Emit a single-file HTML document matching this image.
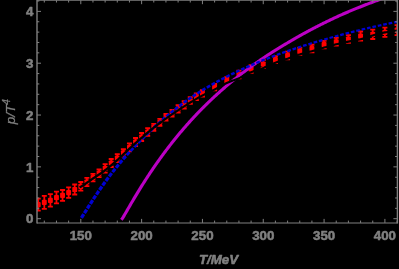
<!DOCTYPE html>
<html><head><meta charset="utf-8"><title>plot</title>
<style>html,body{margin:0;padding:0;background:#000;width:399px;height:269px;overflow:hidden}
svg text{font-family:"Liberation Sans",sans-serif;stroke:#808080;stroke-width:0.55px;stroke-linejoin:round}</style></head>
<body>
<svg width="399" height="269" viewBox="0 0 399 269" style="will-change:transform;display:block;position:absolute;left:0;top:0">
<rect width="399" height="269" fill="#000"/>
<defs><clipPath id="c"><rect x="37.0" y="0.2" width="360.4" height="222.70000000000002"/></clipPath><filter id="b" x="0" y="0" width="399" height="269" filterUnits="userSpaceOnUse"><feGaussianBlur stdDeviation="0.35"/></filter></defs>
<g clip-path="url(#c)"><g filter="url(#b)">
<path d="M38.23 198.60V210.60M35.73 198.60h5.0M35.73 210.60h5.0M44.31 195.90V208.90M41.81 195.90h5.0M41.81 208.90h5.0M50.39 194.10V206.70M47.89 194.10h5.0M47.89 206.70h5.0M56.47 191.70V203.30M53.97 191.70h5.0M53.97 203.30h5.0M62.55 190.00V200.80M60.05 190.00h5.0M60.05 200.80h5.0M68.64 187.30V197.90M66.14 187.30h5.0M66.14 197.90h5.0M74.72 184.50V194.50M72.22 184.50h5.0M72.22 194.50h5.0M80.80 182.00V190.60M78.30 182.00h5.0M78.30 190.60h5.0M86.88 177.90V186.10M84.38 177.90h5.0M84.38 186.10h5.0M92.96 173.80V181.40M90.46 173.80h5.0M90.46 181.40h5.0M99.05 169.50V177.10M96.55 169.50h5.0M96.55 177.10h5.0M105.13 164.20V172.60M102.63 164.20h5.0M102.63 172.60h5.0M111.21 159.00V167.00M108.71 159.00h5.0M108.71 167.00h5.0M117.29 154.10V162.10M114.79 154.10h5.0M114.79 162.10h5.0M123.37 149.10V156.70M120.87 149.10h5.0M120.87 156.70h5.0M129.46 143.30V151.30M126.96 143.30h5.0M126.96 151.30h5.0M135.54 138.00V146.00M133.04 138.00h5.0M133.04 146.00h5.0M141.62 133.00V141.00M139.12 133.00h5.0M139.12 141.00h5.0M147.70 128.20V135.80M145.20 128.20h5.0M145.20 135.80h5.0M153.78 123.80V130.80M151.28 123.80h5.0M151.28 130.80h5.0M159.87 118.80V125.80M157.37 118.80h5.0M157.37 125.80h5.0M165.95 114.00V120.60M163.45 114.00h5.0M163.45 120.60h5.0M172.03 109.90V116.50M169.53 109.90h5.0M169.53 116.50h5.0M178.11 105.10V112.50M175.61 105.10h5.0M175.61 112.50h5.0M184.19 101.10V108.50M181.69 101.10h5.0M181.69 108.50h5.0M190.28 97.20V103.80M187.78 97.20h5.0M187.78 103.80h5.0M196.36 93.50V100.10M193.86 93.50h5.0M193.86 100.10h5.0M202.44 90.10V96.50M199.94 90.10h5.0M199.94 96.50h5.0M214.60 84.00V90.40M212.10 84.00h5.0M212.10 90.40h5.0M226.77 77.10V83.50M224.27 77.10h5.0M224.27 83.50h5.0M238.93 70.70V78.30M236.43 70.70h5.0M236.43 78.30h5.0M251.10 65.20V72.80M248.60 65.20h5.0M248.60 72.80h5.0M263.26 60.00V68.00M260.76 60.00h5.0M260.76 68.00h5.0M275.42 56.10V63.10M272.92 56.10h5.0M272.92 63.10h5.0M287.59 51.70V59.30M285.09 51.70h5.0M285.09 59.30h5.0M299.75 47.90V54.90M297.25 47.90h5.0M297.25 54.90h5.0M311.92 44.75V52.45M309.42 44.75h5.0M309.42 52.45h5.0M324.08 40.80V48.40M321.58 40.80h5.0M321.58 48.40h5.0M336.24 37.90V45.70M333.74 37.90h5.0M333.74 45.70h5.0M348.41 35.20V42.80M345.91 35.20h5.0M345.91 42.80h5.0M360.57 31.50V40.70M358.07 31.50h5.0M358.07 40.70h5.0M372.74 29.60V39.00M370.24 29.60h5.0M370.24 39.00h5.0M384.90 27.70V36.90M382.40 27.70h5.0M382.40 36.90h5.0M397.06 25.20V35.20M394.56 25.20h5.0M394.56 35.20h5.0" stroke="#ff0000" stroke-width="1.8" fill="none"/>
<g fill="#ff0000"><rect x="35.78" y="202.00" width="4.9" height="5.2" rx="0.9"/><rect x="41.86" y="199.80" width="4.9" height="5.2" rx="0.9"/><rect x="47.94" y="197.80" width="4.9" height="5.2" rx="0.9"/><rect x="54.02" y="194.90" width="4.9" height="5.2" rx="0.9"/><rect x="60.10" y="192.80" width="4.9" height="5.2" rx="0.9"/><rect x="66.19" y="190.00" width="4.9" height="5.2" rx="0.9"/><rect x="72.27" y="186.90" width="4.9" height="5.2" rx="0.9"/><rect x="78.35" y="183.70" width="4.9" height="5.2" rx="0.9"/><rect x="84.43" y="179.40" width="4.9" height="5.2" rx="0.9"/><rect x="90.51" y="175.00" width="4.9" height="5.2" rx="0.9"/><rect x="96.60" y="170.70" width="4.9" height="5.2" rx="0.9"/><rect x="102.68" y="165.80" width="4.9" height="5.2" rx="0.9"/><rect x="108.76" y="160.40" width="4.9" height="5.2" rx="0.9"/><rect x="114.84" y="155.50" width="4.9" height="5.2" rx="0.9"/><rect x="120.92" y="150.30" width="4.9" height="5.2" rx="0.9"/><rect x="127.01" y="144.70" width="4.9" height="5.2" rx="0.9"/><rect x="133.09" y="139.40" width="4.9" height="5.2" rx="0.9"/><rect x="139.17" y="134.40" width="4.9" height="5.2" rx="0.9"/><rect x="145.25" y="129.40" width="4.9" height="5.2" rx="0.9"/><rect x="151.33" y="124.70" width="4.9" height="5.2" rx="0.9"/><rect x="157.42" y="119.70" width="4.9" height="5.2" rx="0.9"/><rect x="163.50" y="114.70" width="4.9" height="5.2" rx="0.9"/><rect x="169.58" y="110.60" width="4.9" height="5.2" rx="0.9"/><rect x="175.66" y="106.20" width="4.9" height="5.2" rx="0.9"/><rect x="181.74" y="102.20" width="4.9" height="5.2" rx="0.9"/><rect x="187.83" y="97.90" width="4.9" height="5.2" rx="0.9"/><rect x="193.91" y="94.20" width="4.9" height="5.2" rx="0.9"/><rect x="199.99" y="90.70" width="4.9" height="5.2" rx="0.9"/><rect x="212.15" y="84.60" width="4.9" height="5.2" rx="0.9"/><rect x="224.32" y="77.70" width="4.9" height="5.2" rx="0.9"/><rect x="236.48" y="71.90" width="4.9" height="5.2" rx="0.9"/><rect x="248.65" y="66.40" width="4.9" height="5.2" rx="0.9"/><rect x="260.81" y="61.40" width="4.9" height="5.2" rx="0.9"/><rect x="272.97" y="57.00" width="4.9" height="5.2" rx="0.9"/><rect x="285.14" y="52.90" width="4.9" height="5.2" rx="0.9"/><rect x="297.30" y="48.80" width="4.9" height="5.2" rx="0.9"/><rect x="309.47" y="46.00" width="4.9" height="5.2" rx="0.9"/><rect x="321.63" y="42.00" width="4.9" height="5.2" rx="0.9"/><rect x="333.79" y="39.20" width="4.9" height="5.2" rx="0.9"/><rect x="345.96" y="36.40" width="4.9" height="5.2" rx="0.9"/><rect x="358.12" y="33.50" width="4.9" height="5.2" rx="0.9"/><rect x="370.29" y="31.70" width="4.9" height="5.2" rx="0.9"/><rect x="382.45" y="29.70" width="4.9" height="5.2" rx="0.9"/><rect x="394.61" y="27.60" width="4.9" height="5.2" rx="0.9"/></g>
<polyline points="121.3,219.8 122.28,218.63 122.89,217.67 123.50,216.65 124.10,215.62 124.71,214.58 125.32,213.53 125.93,212.48 126.54,211.43 127.14,210.38 127.75,209.32 128.36,208.27 128.97,207.22 129.58,206.17 130.19,205.13 130.79,204.08 131.40,203.04 132.01,202.00 132.62,200.97 133.23,199.94 133.84,198.91 134.44,197.89 135.05,196.87 135.66,195.85 136.27,194.84 136.88,193.83 137.48,192.83 138.09,191.83 138.70,190.84 139.31,189.84 139.92,188.86 140.53,187.87 141.13,186.90 141.74,185.92 142.35,184.95 142.96,183.99 143.57,183.02 144.17,182.07 144.78,181.11 145.39,180.17 146.00,179.22 146.61,178.28 147.22,177.35 147.82,176.41 148.43,175.49 149.04,174.57 149.65,173.65 150.26,172.73 150.86,171.82 151.47,170.92 152.08,170.02 152.69,169.12 153.30,168.23 153.91,167.34 154.51,166.45 155.12,165.57 155.73,164.70 156.34,163.83 156.95,162.96 157.55,162.09 158.16,161.23 158.77,160.38 159.38,159.53 159.99,158.68 160.60,157.84 161.20,157.00 161.81,156.16 162.42,155.33 163.03,154.50 163.64,153.68 164.25,152.86 164.85,152.04 165.46,151.23 166.07,150.42 166.68,149.62 167.29,148.82 167.89,148.02 168.50,147.23 169.11,146.44 169.72,145.65 170.33,144.87 170.94,144.09 171.54,143.31 172.15,142.54 172.76,141.78 173.37,141.01 173.98,140.25 174.58,139.49 175.19,138.74 175.80,137.99 176.41,137.24 177.02,136.50 177.63,135.76 178.23,135.03 178.84,134.29 179.45,133.56 180.06,132.84 180.67,132.11 181.27,131.40 181.88,130.68 182.49,129.97 183.10,129.26 183.71,128.55 184.32,127.85 184.92,127.15 185.53,126.45 186.14,125.76 186.75,125.07 187.36,124.38 187.96,123.70 188.57,123.02 189.18,122.34 189.79,121.66 190.40,120.99 191.01,120.32 191.61,119.66 192.22,118.99 192.83,118.33 193.44,117.68 194.05,117.02 194.66,116.37 195.26,115.72 195.87,115.08 196.48,114.44 197.09,113.80 197.70,113.16 198.30,112.53 198.91,111.89 199.52,111.27 200.13,110.64 200.74,110.02 201.35,109.40 201.95,108.78 202.56,108.17 203.17,107.55 203.78,106.94 204.39,106.34 204.99,105.73 205.60,105.13 206.21,104.53 206.82,103.94 207.43,103.34 208.04,102.75 208.64,102.16 209.25,101.58 209.86,100.99 210.47,100.41 211.08,99.84 211.68,99.26 212.29,98.69 212.90,98.11 213.51,97.55 214.12,96.98 214.73,96.42 215.33,95.85 215.94,95.29 216.55,94.74 217.16,94.18 217.77,93.63 218.37,93.08 218.98,92.53 219.59,91.99 220.20,91.45 220.81,90.91 221.42,90.37 222.02,89.83 222.63,89.30 223.24,88.77 223.85,88.24 224.46,87.71 225.07,87.18 225.67,86.66 226.28,86.14 226.89,85.62 227.50,85.10 228.11,84.59 228.71,84.08 229.32,83.57 229.93,83.06 230.54,82.55 231.15,82.05 231.76,81.55 232.36,81.05 232.97,80.55 233.58,80.05 234.19,79.56 234.80,79.07 235.40,78.58 236.01,78.09 236.62,77.60 237.23,77.12 237.84,76.64 238.45,76.16 239.05,75.68 239.66,75.20 240.27,74.73 240.88,74.26 241.49,73.78 242.09,73.32 242.70,72.85 243.31,72.38 243.92,71.92 244.53,71.46 245.14,71.00 245.74,70.54 246.35,70.08 246.96,69.63 247.57,69.18 248.18,68.73 248.78,68.28 249.39,67.83 250.00,67.38 250.61,66.94 251.22,66.50 251.83,66.06 252.43,65.62 253.04,65.18 253.65,64.75 254.26,64.31 254.87,63.88 255.48,63.45 256.08,63.02 256.69,62.59 257.30,62.17 257.91,61.74 258.52,61.32 259.12,60.90 259.73,60.48 260.34,60.06 260.95,59.65 261.56,59.23 262.17,58.82 262.77,58.41 263.38,58.00 263.99,57.59 264.60,57.18 265.21,56.78 265.81,56.37 266.42,55.97 267.03,55.57 267.64,55.17 268.25,54.77 268.86,54.38 269.46,53.98 270.07,53.59 270.68,53.20 271.29,52.81 271.90,52.42 272.50,52.03 273.11,51.64 273.72,51.26 274.33,50.88 274.94,50.49 275.55,50.11 276.15,49.73 276.76,49.36 277.37,48.98 277.98,48.60 278.59,48.23 279.19,47.86 279.80,47.49 280.41,47.12 281.02,46.75 281.63,46.38 282.24,46.01 282.84,45.65 283.45,45.29 284.06,44.92 284.67,44.56 285.28,44.20 285.89,43.85 286.49,43.49 287.10,43.13 287.71,42.78 288.32,42.41 288.93,42.05 289.53,41.69 290.14,41.33 290.75,40.97 291.36,40.61 291.97,40.25 292.58,39.89 293.18,39.54 293.79,39.19 294.40,38.83 295.01,38.48 295.62,38.13 296.22,37.78 296.83,37.44 297.44,37.09 298.05,36.74 298.66,36.40 299.27,36.06 299.87,35.71 300.48,35.37 301.09,35.03 301.70,34.69 302.31,34.36 302.91,34.02 303.52,33.68 304.13,33.35 304.74,33.02 305.35,32.68 305.96,32.35 306.56,32.02 307.17,31.69 307.78,31.37 308.39,31.04 309.00,30.71 309.60,30.39 310.21,30.07 310.82,29.74 311.43,29.42 312.04,29.10 312.65,28.78 313.25,28.46 313.86,28.15 314.47,27.83 315.08,27.51 315.69,27.20 316.30,26.89 316.90,26.57 317.51,26.26 318.12,25.95 318.73,25.64 319.34,25.33 319.94,25.03 320.55,24.72 321.16,24.42 321.77,24.11 322.38,23.81 322.99,23.50 323.59,23.20 324.20,22.90 324.81,22.60 325.42,22.30 326.03,22.00 326.63,21.71 327.24,21.41 327.85,21.12 328.46,20.82 329.07,20.53 329.68,20.24 330.28,19.94 330.89,19.65 331.50,19.36 332.11,19.07 332.72,18.79 333.32,18.50 333.93,18.21 334.54,17.93 335.15,17.64 335.76,17.36 336.37,17.08 336.97,16.79 337.58,16.51 338.19,16.23 338.80,15.95 339.41,15.67 340.01,15.40 340.62,15.12 341.23,14.84 341.84,14.57 342.45,14.30 343.06,14.03 343.66,13.77 344.27,13.51 344.88,13.24 345.49,12.98 346.10,12.72 346.71,12.46 347.31,12.21 347.92,11.95 348.53,11.69 349.14,11.43 349.75,11.18 350.35,10.93 350.96,10.67 351.57,10.42 352.18,10.17 352.79,9.91 353.40,9.66 354.00,9.41 354.61,9.16 355.22,8.92 355.83,8.67 356.44,8.42 357.04,8.18 357.65,7.93 358.26,7.69 358.87,7.44 359.48,7.20 360.09,6.96 360.69,6.71 361.30,6.47 361.91,6.23 362.52,5.99 363.13,5.75 363.73,5.52 364.34,5.28 364.95,5.04 365.56,4.80 366.17,4.57 366.78,4.33 367.38,4.10 367.99,3.87 368.60,3.63 369.21,3.40 369.82,3.17 370.42,2.94 371.03,2.71 371.64,2.48 372.25,2.25 372.86,2.02 373.47,1.80 374.07,1.57 374.68,1.34 375.29,1.12 375.90,0.89 376.51,0.67 377.12,0.45 377.72,0.22 378.33,0.00 378.94,-0.22 379.55,-0.44 380.16,-0.66 380.76,-0.88 381.37,-1.10 381.98,-1.32 382.59,-1.54 383.20,-1.75 383.81,-1.97 384.41,-2.19 385.02,-2.40 385.63,-2.62 386.24,-2.83 386.85,-3.05 387.45,-3.26 388.06,-3.47 388.67,-3.68 389.28,-3.89 389.89,-4.10 390.50,-4.31 391.10,-4.52 391.71,-4.73 392.32,-4.94 392.93,-5.15 393.54,-5.36 394.14,-5.56 394.75,-5.77 395.36,-5.97 395.97,-6.18 396.58,-6.38 397.19,-6.59 397.79,-6.79 398.40,-6.99 399.01,-7.19 399.62,-7.39 400.23,-7.60 400.83,-7.80 401.44,-8.00" stroke="#bb00c4" stroke-width="3.1" fill="none"/>
<g stroke="#0000d2" fill="none"><path d="M81.42 217.82L82.60 216.02L83.76 214.20" stroke-width="3.28"/><path d="M84.41 213.18L85.56 211.35L86.71 209.52" stroke-width="3.30"/><path d="M87.36 208.50L88.51 206.68L89.67 204.86" stroke-width="3.29"/><path d="M90.32 203.83L91.49 202.02L92.66 200.21" stroke-width="3.28"/><path d="M93.33 199.19L94.51 197.39L95.70 195.60" stroke-width="3.26"/><path d="M96.38 194.57L97.58 192.79L98.78 191.02" stroke-width="3.25"/><path d="M99.49 189.99L100.70 188.23L101.93 186.48" stroke-width="3.23"/><path d="M102.65 185.45L103.88 183.71L105.13 181.98" stroke-width="3.21"/><path d="M105.88 180.95L107.14 179.25L108.41 177.54" stroke-width="3.18"/><path d="M109.18 176.51L110.46 174.83L111.75 173.15" stroke-width="3.16"/><path d="M112.55 172.12L113.85 170.46L115.17 168.81" stroke-width="3.14"/><path d="M115.99 167.78L117.31 166.15L118.64 164.53" stroke-width="3.11"/><path d="M119.49 163.50L120.84 161.89L122.19 160.30" stroke-width="3.09"/><path d="M123.07 159.27L124.43 157.69L125.80 156.13" stroke-width="3.06"/><path d="M126.71 155.10L128.09 153.55L129.49 152.01" stroke-width="3.03"/><path d="M130.41 150.99L131.81 149.47L133.22 147.95" stroke-width="3.01"/><path d="M134.18 146.93L135.60 145.44L137.03 143.95" stroke-width="2.99"/><path d="M138.01 142.94L139.45 141.48L140.90 140.02" stroke-width="2.96"/><path d="M141.91 139.01L143.37 137.58L144.84 136.15" stroke-width="2.93"/><path d="M145.88 135.15L147.36 133.75L148.83 132.34" stroke-width="2.90"/><path d="M149.88 131.33L151.35 129.93L152.84 128.53" stroke-width="2.90"/><path d="M153.91 127.54L155.40 126.17L156.90 124.80" stroke-width="2.88"/><path d="M158.00 123.81L159.51 122.47L161.03 121.14" stroke-width="2.85"/><path d="M162.16 120.16L163.68 118.84L165.21 117.52" stroke-width="2.84"/><path d="M166.35 116.54L167.88 115.25L169.42 113.96" stroke-width="2.82"/><path d="M170.59 112.98L172.13 111.72L173.69 110.45" stroke-width="2.79"/><path d="M174.88 109.49L176.44 108.25L178.01 107.02" stroke-width="2.77"/><path d="M179.24 106.06L180.81 104.86L182.40 103.69" stroke-width="2.72"/><path d="M183.67 102.75L185.27 101.60L186.87 100.45" stroke-width="2.69"/><path d="M188.18 99.53L189.78 98.41L191.40 97.29" stroke-width="2.67"/><path d="M192.73 96.39L194.35 95.29L195.97 94.20" stroke-width="2.65"/><path d="M197.35 93.32L198.99 92.29L200.64 91.28" stroke-width="2.60"/><path d="M202.06 90.41L203.71 89.41L205.37 88.42" stroke-width="2.57"/><path d="M206.81 87.58L208.47 86.61L210.14 85.64" stroke-width="2.55"/><path d="M211.60 84.81L213.27 83.87L214.95 82.93" stroke-width="2.53"/><path d="M216.43 82.12L218.12 81.20L219.80 80.30" stroke-width="2.51"/><path d="M221.31 79.49L223.00 78.61L224.69 77.73" stroke-width="2.49"/><path d="M226.22 76.94L227.91 76.08L229.61 75.22" stroke-width="2.48"/><path d="M231.16 74.45L232.86 73.62L234.57 72.79" stroke-width="2.46"/><path d="M236.13 72.04L237.84 71.22L239.55 70.42" stroke-width="2.44"/><path d="M241.14 69.68L242.86 68.89L244.57 68.11" stroke-width="2.43"/><path d="M246.18 67.39L247.90 66.63L249.62 65.87" stroke-width="2.41"/><path d="M251.24 65.16L252.96 64.42L254.69 63.68" stroke-width="2.40"/><path d="M256.33 63.00L258.06 62.27L259.79 61.56" stroke-width="2.38"/><path d="M261.44 60.89L263.18 60.19L264.91 59.49" stroke-width="2.37"/><path d="M266.58 58.83L268.32 58.15L270.06 57.48" stroke-width="2.36"/><path d="M271.74 56.84L273.48 56.18L275.22 55.52" stroke-width="2.35"/><path d="M276.92 54.89L278.66 54.25L280.41 53.62" stroke-width="2.34"/><path d="M282.11 53.00L283.86 52.38L285.61 51.76" stroke-width="2.33"/><path d="M287.33 51.16L289.08 50.56L290.83 49.96" stroke-width="2.32"/><path d="M292.56 49.37L294.32 48.79L296.07 48.20" stroke-width="2.31"/><path d="M297.81 47.63L299.57 47.06L301.33 46.50" stroke-width="2.30"/><path d="M303.08 45.94L304.83 45.38L306.60 44.83" stroke-width="2.29"/><path d="M308.35 44.29L310.12 43.75L311.88 43.22" stroke-width="2.29"/><path d="M313.64 42.67L315.40 42.14L317.17 41.60" stroke-width="2.29"/><path d="M318.93 41.07L320.70 40.55L322.46 40.03" stroke-width="2.28"/><path d="M324.24 39.51L326.00 39.00L327.77 38.49" stroke-width="2.27"/><path d="M329.55 37.99L331.32 37.49L333.09 37.00" stroke-width="2.27"/><path d="M334.88 36.51L336.65 36.02L338.42 35.54" stroke-width="2.26"/><path d="M340.22 35.06L341.99 34.59L343.76 34.12" stroke-width="2.25"/><path d="M345.56 33.65L347.34 33.19L349.11 32.74" stroke-width="2.25"/><path d="M350.92 32.28L352.69 31.83L354.47 31.39" stroke-width="2.24"/><path d="M356.28 30.94L358.06 30.50L359.84 30.07" stroke-width="2.24"/><path d="M361.66 29.63L363.43 29.21L365.21 28.78" stroke-width="2.24"/><path d="M367.04 28.36L368.81 27.94L370.59 27.53" stroke-width="2.23"/><path d="M372.42 27.11L374.20 26.71L375.98 26.31" stroke-width="2.23"/><path d="M377.82 25.90L379.60 25.50L381.38 25.11" stroke-width="2.22"/><path d="M383.22 24.71L385.00 24.33L386.78 23.95" stroke-width="2.22"/><path d="M388.62 23.55L390.40 23.18L392.19 22.81" stroke-width="2.22"/><path d="M394.03 22.42L395.82 22.06L397.60 21.70" stroke-width="2.21"/><path d="M399.45 21.32L400.63 21.09L401.81 20.85" stroke-width="2.21"/></g>
<polyline points="79.58,187.30 80.80,186.70 82.02,186.01 83.23,185.26 84.45,184.47 85.67,183.64 86.88,182.79 88.10,181.93 89.31,181.06 90.53,180.19 91.75,179.33 92.96,178.50 94.18,177.69 95.40,176.89 96.61,176.10 97.83,175.31 99.05,174.51 100.26,173.71 101.48,172.89 102.70,172.05 103.91,171.19 105.13,170.30 106.34,169.38 107.56,168.42 108.78,167.44 109.99,166.44 111.21,165.41 112.43,164.37 113.64,163.32 114.86,162.25 116.08,161.18 117.29,160.10 118.51,159.00 119.72,157.88 120.94,156.73 122.16,155.56 123.37,154.39 124.59,153.21 125.81,152.04 127.02,150.88 128.24,149.73 129.46,148.60 130.67,147.49 131.89,146.39 133.11,145.29 134.32,144.20 135.54,143.11 136.75,142.04 137.97,140.97 139.19,139.90 140.40,138.85 141.62,137.80 142.84,136.76 144.05,135.72 145.27,134.69 146.49,133.66 147.70,132.64 148.92,131.63 150.13,130.63 151.35,129.64 152.57,128.66 153.78,127.70 155.00,126.75 156.22,125.81 157.43,124.87 158.65,123.95 159.87,123.04 161.08,122.13" stroke="#000" stroke-width="2.3" fill="none" stroke-linejoin="round"/>
<polyline points="159.87,123.04 161.08,122.13 162.30,121.24 163.52,120.35 164.73,119.47 165.95,118.60 167.16,117.74 168.38,116.88 169.60,116.04 170.81,115.20 172.03,114.37 173.25,113.55 174.46,112.73 175.68,111.91 176.90,111.11 178.11,110.30 179.33,109.50 180.54,108.70 181.76,107.90 182.98,107.10 184.19,106.32 185.41,105.54 186.63,104.76 187.84,104.00 189.06,103.24 190.28,102.50 191.49,101.76 192.71,101.03 193.93,100.31 195.14,99.59 196.36,98.89 197.57,98.19 198.79,97.50 200.01,96.82 201.22,96.15 202.44,95.50 203.66,94.86 204.87,94.25 206.09,93.65 207.31,93.06 208.52,92.47 209.74,91.89 210.95,91.31 212.17,90.72 213.39,90.12 214.60,89.50 215.82,88.86 217.04,88.20 218.25,87.53 219.47,86.84 220.69,86.16 221.90,85.48 223.12,84.82 224.34,84.18 225.55,83.57 226.77,83.00 227.98,82.47 229.20,81.96 230.42,81.49 231.63,81.03 232.85,80.58 234.07,80.13 235.28,79.67 236.50,79.21 237.72,78.72 238.93,78.20 240.15,77.64 241.36,77.05 242.58,76.43 243.80,75.79 245.01,75.15 246.23,74.51 247.45,73.89 248.66,73.29 249.88,72.72 251.10,72.20 252.31,71.72 253.53,71.28 254.75,70.86 255.96,70.46 257.18,70.07 258.39,69.68 259.61,69.28 260.83,68.88 262.04,68.45 263.26,68.00 264.48,67.51 265.69,66.99 266.91,66.45 268.13,65.90 269.34,65.33 270.56,64.77 271.77,64.22 272.99,63.68 274.21,63.18 275.42,62.70 276.64,62.26 277.86,61.83 279.07,61.43 280.29,61.03 281.51,60.65 282.72,60.27 283.94,59.89 285.16,59.50 286.37,59.11 287.59,58.70 288.80,58.28 290.02,57.84 291.24,57.39 292.45,56.94 293.67,56.49 294.89,56.04 296.10,55.61 297.32,55.18 298.54,54.78 299.75,54.40 300.97,54.04 302.18,53.71 303.40,53.38 304.62,53.07 305.83,52.76 307.05,52.46 308.27,52.16 309.48,51.85 310.70,51.53 311.92,51.20 313.13,50.86 314.35,50.50 315.57,50.14 316.78,49.78 318.00,49.41 319.21,49.04 320.43,48.67 321.65,48.31 322.86,47.95 324.08,47.60 325.30,47.26 326.51,46.91 327.73,46.57 328.95,46.23 330.16,45.89 331.38,45.56 332.59,45.23 333.81,44.91 335.03,44.60 336.24,44.30 337.46,44.01 338.68,43.72 339.89,43.44 341.11,43.17 342.33,42.90 343.54,42.63 344.76,42.37 345.98,42.11 347.19,41.85 348.41,41.60 349.62,41.35 350.84,41.12 352.06,40.89 353.27,40.67 354.49,40.45 355.71,40.22 356.92,39.99 358.14,39.74 359.36,39.48 360.57,39.20 361.79,38.89 363.00,38.54 364.22,38.16 365.44,37.76 366.65,37.35 367.87,36.94 369.09,36.53 370.30,36.13 371.52,35.75 372.74,35.40 373.95,35.07 375.17,34.73 376.39,34.41 377.60,34.08 378.82,33.77 380.03,33.47 381.25,33.18 382.47,32.90 383.68,32.64 384.90,32.40 386.12,32.18 387.33,31.97 388.55,31.77 389.77,31.58 390.98,31.40 392.20,31.23 393.41,31.05 394.63,30.87 395.85,30.69 397.06,30.50 398.28,30.30 399.50,30.10" stroke="#000" stroke-width="2.1" fill="none" stroke-linejoin="round"/>
</g></g>
<path d="M37.0 0.2H397.4M37.0 222.9H397.4" stroke="#808080" stroke-width="1.05" fill="none"/>
<path d="M37.0 -0.3V223.4M397.4 -0.3V223.4" stroke="#808080" stroke-width="1.4" fill="none"/>
<path d="M44.31 222.9v-2.3M44.31 0.2v2.3M56.47 222.9v-2.3M56.47 0.2v2.3M68.64 222.9v-2.3M68.64 0.2v2.3M80.80 222.9v-4M80.80 0.2v4M92.96 222.9v-2.3M92.96 0.2v2.3M105.13 222.9v-2.3M105.13 0.2v2.3M117.29 222.9v-2.3M117.29 0.2v2.3M129.46 222.9v-2.3M129.46 0.2v2.3M141.62 222.9v-4M141.62 0.2v4M153.78 222.9v-2.3M153.78 0.2v2.3M165.95 222.9v-2.3M165.95 0.2v2.3M178.11 222.9v-2.3M178.11 0.2v2.3M190.28 222.9v-2.3M190.28 0.2v2.3M202.44 222.9v-4M202.44 0.2v4M214.60 222.9v-2.3M214.60 0.2v2.3M226.77 222.9v-2.3M226.77 0.2v2.3M238.93 222.9v-2.3M238.93 0.2v2.3M251.10 222.9v-2.3M251.10 0.2v2.3M263.26 222.9v-4M263.26 0.2v4M275.42 222.9v-2.3M275.42 0.2v2.3M287.59 222.9v-2.3M287.59 0.2v2.3M299.75 222.9v-2.3M299.75 0.2v2.3M311.92 222.9v-2.3M311.92 0.2v2.3M324.08 222.9v-4M324.08 0.2v4M336.24 222.9v-2.3M336.24 0.2v2.3M348.41 222.9v-2.3M348.41 0.2v2.3M360.57 222.9v-2.3M360.57 0.2v2.3M372.74 222.9v-2.3M372.74 0.2v2.3M384.90 222.9v-4M384.90 0.2v4M397.06 222.9v-2.3M397.06 0.2v2.3M37.0 218.70h4M397.4 218.70h-4M37.0 208.33h2.3M397.4 208.33h-2.3M37.0 197.97h2.3M397.4 197.97h-2.3M37.0 187.60h2.3M397.4 187.60h-2.3M37.0 177.24h2.3M397.4 177.24h-2.3M37.0 166.87h4M397.4 166.87h-4M37.0 156.50h2.3M397.4 156.50h-2.3M37.0 146.14h2.3M397.4 146.14h-2.3M37.0 135.77h2.3M397.4 135.77h-2.3M37.0 125.41h2.3M397.4 125.41h-2.3M37.0 115.04h4M397.4 115.04h-4M37.0 104.67h2.3M397.4 104.67h-2.3M37.0 94.31h2.3M397.4 94.31h-2.3M37.0 83.94h2.3M397.4 83.94h-2.3M37.0 73.58h2.3M397.4 73.58h-2.3M37.0 63.21h4M397.4 63.21h-4M37.0 52.84h2.3M397.4 52.84h-2.3M37.0 42.48h2.3M397.4 42.48h-2.3M37.0 32.11h2.3M397.4 32.11h-2.3M37.0 21.75h2.3M397.4 21.75h-2.3M37.0 11.38h4M397.4 11.38h-4M37.0 1.01h2.3M397.4 1.01h-2.3" stroke="#808080" stroke-width="1" fill="none"/>
<text x="80.80" y="240" text-anchor="middle" font-size="13.3" fill="#808080" font-weight="bold">150</text>
<text x="141.62" y="240" text-anchor="middle" font-size="13.3" fill="#808080" font-weight="bold">200</text>
<text x="202.44" y="240" text-anchor="middle" font-size="13.3" fill="#808080" font-weight="bold">250</text>
<text x="263.26" y="240" text-anchor="middle" font-size="13.3" fill="#808080" font-weight="bold">300</text>
<text x="324.08" y="240" text-anchor="middle" font-size="13.3" fill="#808080" font-weight="bold">350</text>
<text x="384.90" y="240" text-anchor="middle" font-size="13.3" fill="#808080" font-weight="bold">400</text>
<text x="33.5" y="223.45" text-anchor="end" font-size="13.3" fill="#808080" font-weight="bold">0</text>
<text x="33.5" y="171.62" text-anchor="end" font-size="13.3" fill="#808080" font-weight="bold">1</text>
<text x="33.5" y="119.79" text-anchor="end" font-size="13.3" fill="#808080" font-weight="bold">2</text>
<text x="33.5" y="67.96" text-anchor="end" font-size="13.3" fill="#808080" font-weight="bold">3</text>
<text x="33.5" y="16.13" text-anchor="end" font-size="13.3" fill="#808080" font-weight="bold">4</text>
<text x="218.5" y="264" text-anchor="middle" font-size="13.3" fill="#808080" font-style="italic" font-weight="bold">T/MeV</text>
<text transform="translate(15.2,111.7) rotate(-90)" text-anchor="middle" font-size="13.6" fill="#808080" font-style="italic" style="stroke-width:0.25px">p/T<tspan dy="-5.5" font-size="10">4</tspan></text>
</svg>
</body></html>
